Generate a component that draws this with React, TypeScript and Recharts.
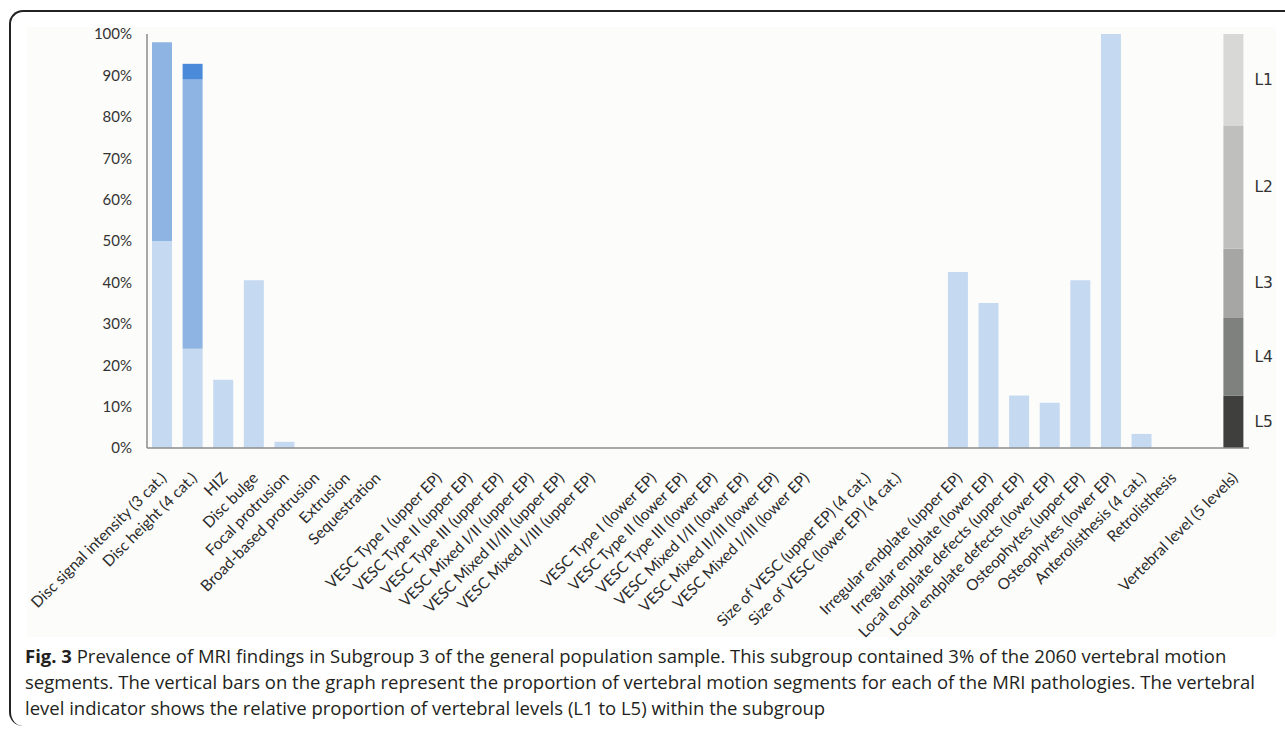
import React from 'react';
import { BarChart, Bar, XAxis, YAxis, LabelList } from 'recharts';

// category labels, "" marks an empty slot between groups
const categories = [
  'Disc signal intensity (3 cat.)', 'Disc height (4 cat.)', 'HIZ', 'Disc bulge',
  'Focal protrusion', 'Broad-based protrusion', 'Extrusion', 'Sequestration', '',
  'VESC Type I (upper EP)', 'VESC Type II (upper EP)', 'VESC Type III (upper EP)',
  'VESC Mixed I/II (upper EP)', 'VESC Mixed II/III (upper EP)', 'VESC Mixed I/III (upper EP)', '',
  'VESC Type I (lower EP)', 'VESC Type II (lower EP)', 'VESC Type III (lower EP)',
  'VESC Mixed I/II (lower EP)', 'VESC Mixed II/III (lower EP)', 'VESC Mixed I/III (lower EP)', '',
  'Size of VESC (upper EP) (4 cat.)', 'Size of VESC (lower EP) (4 cat.)', '',
  'Irregular endplate (upper EP)', 'Irregular endplate (lower EP)',
  'Local endplate defects (upper EP)', 'Local endplate defects (lower EP)',
  'Osteophytes (upper EP)', 'Osteophytes (lower EP)', 'Anterolisthesis (4 cat.)', 'Retrolisthesis', '',
  'Vertebral level (5 levels)',
];

// first (lightest) category of each finding
const lightValues = [
  50, 24, 16.5, 40.5, 1.5, 0, 0, 0, 0,
  0, 0, 0, 0, 0, 0, 0,
  0, 0, 0, 0, 0, 0, 0,
  0, 0, 0,
  42.5, 35, 12.7, 10.9, 40.5, 100, 3.4, 0, 0,
  0,
];
// second category (multi-category findings)
const midValues = [48, 65];
// third category
const darkValues = [0, 3.8];

// vertebral level indicator (share of the subgroup)
const levelNames = ['L5', 'L4', 'L3', 'L2', 'L1'];
const levelValues = [12.7, 18.7, 16.7, 29.7, 22.2];
const levelColors = ['#3f403d', '#7f817e', '#a6a7a4', '#bfc0bd', '#d8d9d6'];

const yTicks = [0, 10, 20, 30, 40, 50, 60, 70, 80, 90, 100];

const data = categories.map((name, i) => {
  const row: any = {
    id: i,
    name,
    light: lightValues[i],
    mid: midValues[i] ?? 0,
    dark: darkValues[i] ?? 0,
  };
  if (name.startsWith('Vertebral level')) {
    levelNames.forEach((l, k) => (row[l] = levelValues[k]));
  }
  return row;
});

const XTick = (props: any) => {
  const { x, y, payload } = props;
  const label = categories[payload.value];
  if (!label) return null;
  const ax = x + 5;
  const ay = y + 23;
  return (
    <text
      x={ax}
      y={ay}
      transform={`rotate(-45, ${ax}, ${ay})`}
      textAnchor="end"
      fontFamily="Lato"
      fontSize={15.5}
      fill="#2b2b2b"
    >
      {label}
    </text>
  );
};

const levelLabel = (name: string) => (props: any) => {
  const { x, y, width, height, value } = props;
  if (!value) return null;
  return (
    <text
      x={x + width + 11}
      y={y + height / 2}
      dominantBaseline="central"
      fontFamily="DejaVu Sans"
      fontSize={15.5}
      fill="#333"
    >
      {name}
    </text>
  );
};

export default function App() {
  return (
    <div style={{ position: 'absolute', left: 0, top: 0, width: 1285, height: 735, background: '#fff' }}>
      <div
        style={{
          position: 'absolute',
          left: 9,
          top: 10,
          width: 1300,
          height: 714,
          borderTop: '2px solid #222',
          borderLeft: '2px solid #222',
          borderRadius: '14px 0 0 14px',
        }}
      />
      <div
        style={{
          position: 'absolute',
          left: 27,
          top: 27,
          width: 1249,
          height: 610,
          background: '#fcfcfa',
        }}
      />
      <div style={{ position: 'absolute', left: 0, top: 0 }}>
        <BarChart
          width={1285}
          height={640}
          data={data}
          margin={{ top: 34, right: 36, bottom: 22, left: 87 }}
          barSize={20}
        >
          <XAxis
            dataKey="id"
            interval={0}
            height={170}
            tick={<XTick />}
            tickLine={false}
            axisLine={{ stroke: '#8c8c8c', strokeWidth: 1.5 }}
          />
          <YAxis
            width={60}
            domain={[0, 100]}
            ticks={yTicks}
            tickFormatter={(v) => `${v}%`}
            tickLine={false}
            tickSize={6}
            tickMargin={9}
            axisLine={{ stroke: '#8c8c8c', strokeWidth: 1.5 }}
            tick={{ fontFamily: 'Lato', fontSize: 15, fill: '#333' }}
          />
          <Bar dataKey="light" stackId="a" fill="#c5d9f1" isAnimationActive={false} />
          <Bar dataKey="mid" stackId="a" fill="#8eb4e3" isAnimationActive={false} />
          <Bar dataKey="dark" stackId="a" fill="#4a8ad8" isAnimationActive={false} />
          {levelNames.map((l, k) => (
            <Bar key={l} dataKey={l} stackId="a" fill={levelColors[k]} isAnimationActive={false}>
              <LabelList dataKey={l} content={levelLabel(l)} />
            </Bar>
          ))}
        </BarChart>
      </div>
      <div
        style={{
          position: 'absolute',
          left: 25,
          top: 643,
          width: 1255,
          fontFamily: 'Open Sans',
          fontSize: 18.5,
          lineHeight: '26px',
          color: '#231f20',
          whiteSpace: 'nowrap',
        }}
      >
        <b>Fig. 3</b> Prevalence of MRI findings in Subgroup 3 of the general population sample. This subgroup contained 3% of the 2060 vertebral motion
        <br />
        segments. The vertical bars on the graph represent the proportion of vertebral motion segments for each of the MRI pathologies. The vertebral
        <br />
        level indicator shows the relative proportion of vertebral levels (L1 to L5) within the subgroup
      </div>
    </div>
  );
}
